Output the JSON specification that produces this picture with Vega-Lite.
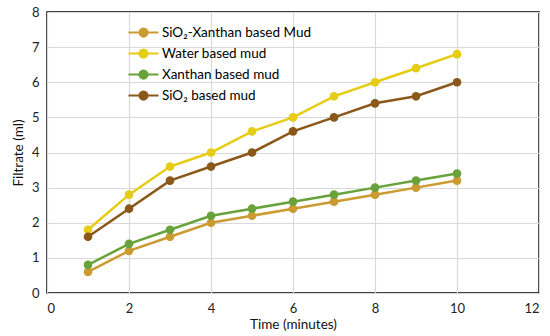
{
  "$schema": "https://vega.github.io/schema/vega-lite/v6.json",
  "width": 492,
  "height": 281,
  "autosize": {"type": "none"},
  "padding": {"left": 47, "top": 12, "right": 11, "bottom": 43},
  "background": "white",
  "data": {"values": [
    {"t":1,"v":0.6,"s":"SiO₂-Xanthan based Mud"},{"t":2,"v":1.2,"s":"SiO₂-Xanthan based Mud"},{"t":3,"v":1.6,"s":"SiO₂-Xanthan based Mud"},{"t":4,"v":2.0,"s":"SiO₂-Xanthan based Mud"},{"t":5,"v":2.2,"s":"SiO₂-Xanthan based Mud"},{"t":6,"v":2.4,"s":"SiO₂-Xanthan based Mud"},{"t":7,"v":2.6,"s":"SiO₂-Xanthan based Mud"},{"t":8,"v":2.8,"s":"SiO₂-Xanthan based Mud"},{"t":9,"v":3.0,"s":"SiO₂-Xanthan based Mud"},{"t":10,"v":3.2,"s":"SiO₂-Xanthan based Mud"},
    {"t":1,"v":1.8,"s":"Water based mud"},{"t":2,"v":2.8,"s":"Water based mud"},{"t":3,"v":3.6,"s":"Water based mud"},{"t":4,"v":4.0,"s":"Water based mud"},{"t":5,"v":4.6,"s":"Water based mud"},{"t":6,"v":5.0,"s":"Water based mud"},{"t":7,"v":5.6,"s":"Water based mud"},{"t":8,"v":6.0,"s":"Water based mud"},{"t":9,"v":6.4,"s":"Water based mud"},{"t":10,"v":6.8,"s":"Water based mud"},
    {"t":1,"v":0.8,"s":"Xanthan based mud"},{"t":2,"v":1.4,"s":"Xanthan based mud"},{"t":3,"v":1.8,"s":"Xanthan based mud"},{"t":4,"v":2.2,"s":"Xanthan based mud"},{"t":5,"v":2.4,"s":"Xanthan based mud"},{"t":6,"v":2.6,"s":"Xanthan based mud"},{"t":7,"v":2.8,"s":"Xanthan based mud"},{"t":8,"v":3.0,"s":"Xanthan based mud"},{"t":9,"v":3.2,"s":"Xanthan based mud"},{"t":10,"v":3.4,"s":"Xanthan based mud"},
    {"t":1,"v":1.6,"s":"SiO₂ based mud"},{"t":2,"v":2.4,"s":"SiO₂ based mud"},{"t":3,"v":3.2,"s":"SiO₂ based mud"},{"t":4,"v":3.6,"s":"SiO₂ based mud"},{"t":5,"v":4.0,"s":"SiO₂ based mud"},{"t":6,"v":4.6,"s":"SiO₂ based mud"},{"t":7,"v":5.0,"s":"SiO₂ based mud"},{"t":8,"v":5.4,"s":"SiO₂ based mud"},{"t":9,"v":5.6,"s":"SiO₂ based mud"},{"t":10,"v":6.0,"s":"SiO₂ based mud"}
  ]},
  "encoding": {
    "x": {"field": "t", "type": "quantitative", "title": "Time (minutes)",
      "scale": {"domain": [0, 12], "nice": false},
      "axis": {"values": [0,2,4,6,8,10,12], "domain": false, "ticks": false, "labelPadding": 9, "titlePadding": 2}},
    "y": {"field": "v", "type": "quantitative", "title": "Filtrate (ml)",
      "scale": {"domain": [0, 8], "nice": false},
      "axis": {"values": [0,1,2,3,4,5,6,7,8], "domain": false, "ticks": false, "labelPadding": 8, "titlePadding": 6}},
    "color": {"field": "s", "type": "nominal",
      "scale": {"domain": ["SiO₂-Xanthan based Mud","Water based mud","Xanthan based mud","SiO₂ based mud"],
                "range": ["#CB9A30","#E6CC14","#68A23A","#8A5818"]},
      "legend": {"title": null, "orient": "none", "legendX": 88, "legendY": 12,
        "symbolType": "M-2,0H2M-0.55,0A0.55,0.55 0 1,0 0.55,0A0.55,0.55 0 1,0 -0.55,0",
        "symbolSize": 225, "symbolStrokeWidth": 2, "symbolOpacity": 1,
        "labelFont": "Lato", "labelFontSize": 13.5, "labelColor": "#000", "rowPadding": 4, "labelOffset": 10,
        "encode": {"symbols": {"update": {"stroke": {"scale": "color", "field": "value"}, "fill": {"scale": "color", "field": "value"}}}}}}
  },
  "layer": [
    {"mark": {"type": "line", "strokeWidth": 2.5}},
    {"mark": {"type": "circle", "size": 75, "opacity": 1}}
  ],
  "config": {
    "view": {"stroke": "#000", "strokeWidth": 1.5},
    "axis": {"gridColor": "#d9d9d9", "gridWidth": 1.2, "labelFont": "Lato", "labelFontSize": 13, "labelColor": "#222",
      "titleFont": "Lato", "titleFontSize": 13.5, "titleFontWeight": "normal", "titleColor": "#111"}
  }
}
